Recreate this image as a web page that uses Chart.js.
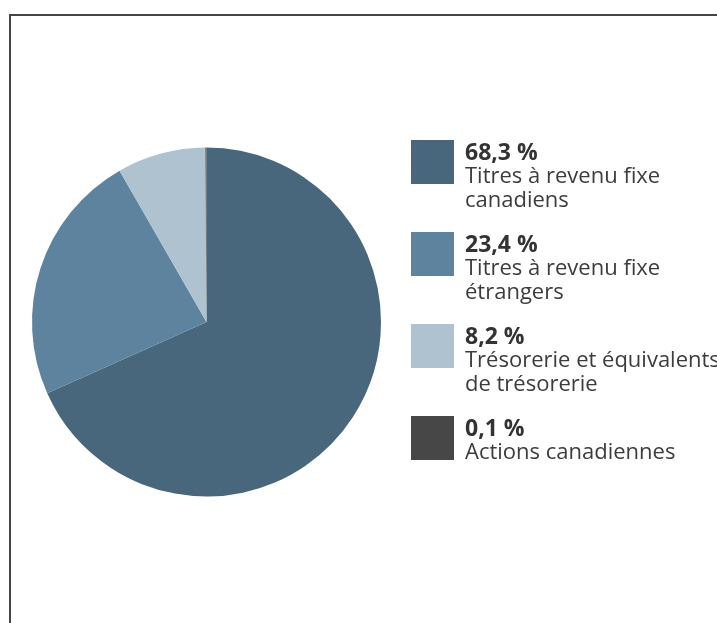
<!DOCTYPE html>
<html lang="fr">

<head>
    <meta charset="UTF-8">
    <title>Répartition du portefeuille</title>
    <script src="https://cdn.jsdelivr.net/npm/chart.js@4/dist/chart.umd.min.js"></script>
    <style>
        body { margin: 0; background: #fff; }
        canvas { display: block; }
    </style>
</head>

<body>
    <canvas id="myChart" width="717" height="623"></canvas>

    <script>
        // Categories (each label split into its display lines) and their shares in %.
        var categories = [
            ["Titres à revenu fixe", "canadiens"],
            ["Titres à revenu fixe", "étrangers"],
            ["Trésorerie et équivalents", "de trésorerie"],
            ["Actions canadiennes"]
        ];
        var shares = [68.3, 23.4, 8.2, 0.1];
        var colours = ["#48677d", "#5e839e", "#aec2d0", "#474747"];

        var FONT = "'Open Sans', sans-serif";

        // Format a share the French way: 68,3 %
        function formatShare(v) {
            return v.toFixed(1).replace(".", ",") + " %";
        }

        // Frame lines along the top and left of the picture.
        var framePlugin = {
            id: "frame",
            beforeDraw: function (chart) {
                var ctx = chart.ctx;
                ctx.save();
                ctx.strokeStyle = "#444444";
                ctx.lineWidth = 2;
                ctx.beginPath();
                ctx.moveTo(10, chart.height);
                ctx.lineTo(10, 15);
                ctx.lineTo(chart.width, 15);
                ctx.stroke();
                ctx.restore();
            }
        };

        // Legend on the right: colour square, bold share, then label lines.
        var sideLegend = {
            id: "sideLegend",
            afterDraw: function (chart) {
                var ctx = chart.ctx;
                var ds = chart.data.datasets[0];
                ctx.save();
                chart.data.labels.forEach(function (lines, i) {
                    var top = 140 + i * 92;
                    ctx.fillStyle = ds.backgroundColor[i];
                    ctx.fillRect(411, top, 43, 44);

                    ctx.textBaseline = "alphabetic";
                    ctx.textAlign = "left";
                    ctx.fillStyle = "#333333";
                    ctx.font = "bold 23px " + FONT;
                    ctx.fillText(formatShare(ds.data[i]), 465, top + 20);

                    ctx.fillStyle = "#3c3c3c";
                    ctx.font = "22px " + FONT;
                    lines.forEach(function (line, j) {
                        ctx.fillText(line, 465, top + 43 + j * 24);
                    });
                });
                ctx.restore();
            }
        };

        var chart = new Chart(document.getElementById("myChart"), {
            type: "pie",
            data: {
                labels: categories,
                datasets: [{
                    data: shares,
                    backgroundColor: colours,
                    borderWidth: 0
                }]
            },
            options: {
                responsive: false,
                animation: false,
                devicePixelRatio: 1,
                layout: {
                    padding: { left: 32, right: 336, top: 147, bottom: 126 }
                },
                plugins: {
                    legend: { display: false },
                    tooltip: { enabled: false }
                }
            },
            plugins: [framePlugin, sideLegend]
        });
    </script>
</body>

</html>
